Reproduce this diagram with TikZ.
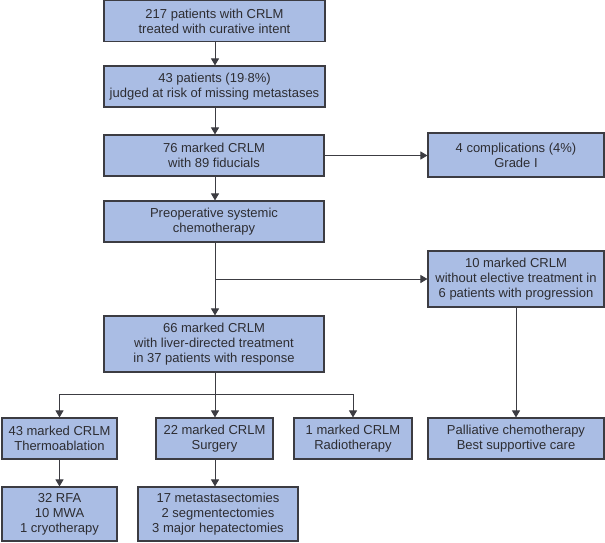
\documentclass[tikz,border=0pt]{standalone}
\usepackage{fontspec}
\setmainfont{Liberation Sans}
\usetikzlibrary{arrows.meta}
\definecolor{boxfill}{RGB}{170,189,228}
\definecolor{boxline}{RGB}{60,60,66}
\definecolor{txt}{RGB}{45,45,50}
\begin{document}
\begin{tikzpicture}[x=1pt,y=-1pt,
  box/.style={draw=boxline,line width=1.1pt,fill=boxfill,text=txt,align=center,
    inner sep=1pt,font=\fontsize{13}{15}\selectfont},
  conn/.style={draw=boxline,line width=0.9pt},
  arr/.style={conn,-{Triangle[width=8pt,length=7pt]}}]
\useasboundingbox (0,0) rectangle (605,543);
\node[box,minimum width=221pt,minimum height=41pt] (n1) at (214.5,21) {217 patients with CRLM\\treated with curative intent};
\node[box,minimum width=221pt,minimum height=41pt] (n2) at (214.5,86.5) {43 patients (19$\cdot$8\%)\\judged at risk of missing metastases};
\node[box,minimum width=220pt,minimum height=41pt] (n3) at (214,155.5) {76 marked CRLM\\with 89 fiducials};
\node[box,minimum width=220pt,minimum height=41pt] (n4) at (214,221.5) {Preoperative systemic\\chemotherapy};
\node[box,minimum width=220pt,minimum height=56pt] (n5) at (214,344) {66 marked CRLM\\with liver-directed treatment\\in 37 patients with response};
\node[box,minimum width=176pt,minimum height=44pt] (c1) at (516,155) {4 complications (4\%)\\Grade I};
\node[box,minimum width=176pt,minimum height=56pt] (c2) at (516,279) {10 marked CRLM\\without elective treatment in\\6 patients with progression};
\node[box,minimum width=115pt,minimum height=41pt] (b1) at (59.5,438.5) {43 marked CRLM\\Thermoablation};
\node[box,minimum width=117pt,minimum height=41pt] (b2) at (214.5,438.5) {22 marked CRLM\\Surgery};
\node[box,minimum width=118pt,minimum height=41pt] (b3) at (353,438.5) {1 marked CRLM\\Radiotherapy};
\node[box,minimum width=176pt,minimum height=41pt] (b4) at (516,438.5) {Palliative chemotherapy\\Best supportive care};
\node[box,minimum width=115pt,minimum height=54pt] (d1) at (59.5,514) {32 RFA\\10 MWA\\1 cryotherapy};
\node[box,minimum width=160pt,minimum height=54pt] (d2) at (218,514) {17 metastasectomies\\2 segmentectomies\\3 major hepatectomies};
\coordinate (j1) at (215,279);
\coordinate (j2) at (215,394);
\draw[arr] (n1.south -| j1) -- (n2.north -| j1);
\draw[arr] (n2.south -| j1) -- (n3.north -| j1);
\draw[arr] (n3.south -| j1) -- (n4.north -| j1);
\draw[arr] (n3.east) -- (c1.west |- n3.east);
\draw[arr] (n4.south -| j1) -- (n5.north -| j1);
\draw[arr] (j1) -- (c2.west);
\draw[conn] (n5.south -| j2) -- (j2);
\draw[conn] (b1.north |- j2) -- (b3.north |- j2);
\draw[arr] (b1.north |- j2) -- (b1.north);
\draw[arr] (j2) -- (b2.north -| j2);
\draw[arr] (b3.north |- j2) -- (b3.north);
\draw[arr] (c2.south) -- (b4.north);
\draw[arr] (b1.south) -- (d1.north -| b1.south);
\draw[arr] (b2.south -| j2) -- (d2.north -| j2);
\end{tikzpicture}
\end{document}
